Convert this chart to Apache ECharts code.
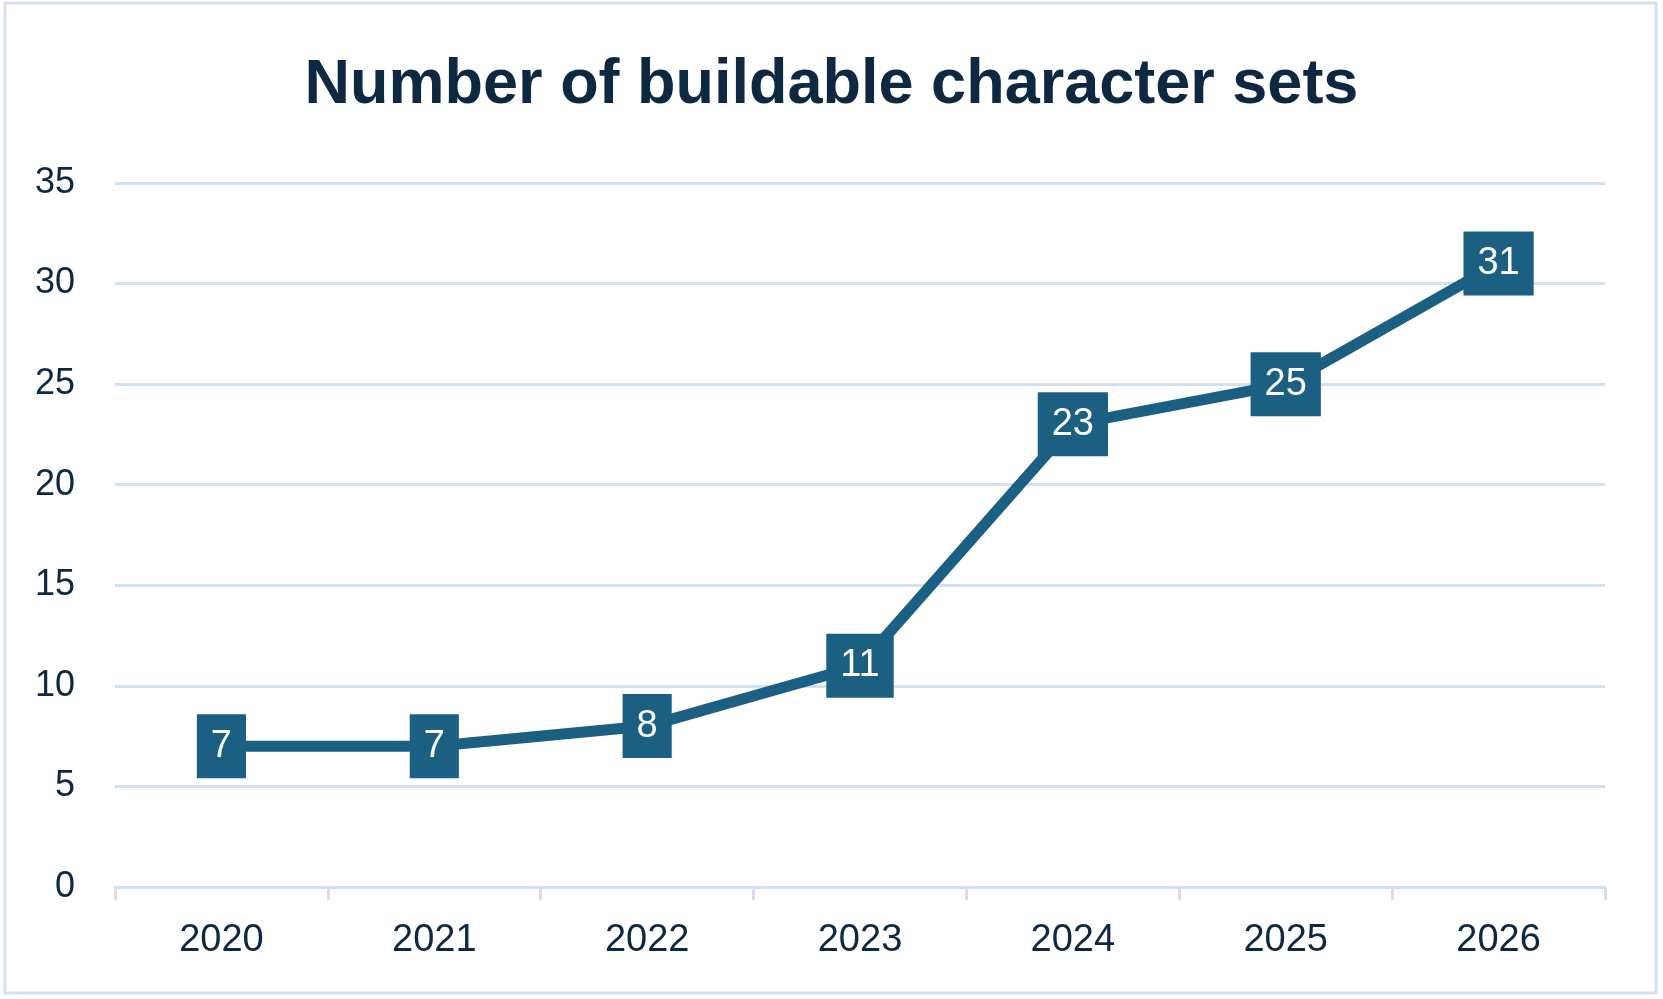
<!DOCTYPE html>
<html>
<head>
<meta charset="utf-8">
<script src="https://cdn.jsdelivr.net/npm/echarts@6/dist/echarts.min.js"></script>
<style>
html,body{margin:0;padding:0;background:#fff;}
#chart{width:1663px;height:999px;}
</style>
</head>
<body>
<div id="chart"></div>
<script>
const titleText = 'Number of buildable character sets';
const years = ['2020', '2021', '2022', '2023', '2024', '2025', '2026'];
const counts = [7, 7, 8, 11, 23, 25, 31];
const yTicks = [0, 5, 10, 15, 20, 25, 30, 35];

const navy = '#0E2841';
const lineColor = '#1B6082';
const gridColor = '#D2E1F2';
const fontFamily = '"Liberation Sans", Arial, sans-serif';

const chart = echarts.init(document.getElementById('chart'), null, {renderer: 'canvas'});
chart.setOption({
  backgroundColor: '#ffffff',
  animation: false,
  title: {
    text: titleText,
    left: 'center',
    top: 49,
    textStyle: {fontFamily: fontFamily, fontSize: 63, fontWeight: 'bold', color: navy}
  },
  graphic: [{
    type: 'rect',
    shape: {x: 5, y: 3, width: 1651, height: 990},
    style: {fill: 'none', stroke: gridColor, lineWidth: 3},
    silent: true
  }],
  grid: {left: 115, right: 58, top: 183, bottom: 112, containLabel: false},
  xAxis: {
    type: 'category',
    data: years,
    boundaryGap: true,
    axisLine: {show: true, lineStyle: {color: gridColor, width: 3}},
    axisTick: {show: true, length: 13, lineStyle: {color: gridColor, width: 3}},
    axisLabel: {color: navy, fontSize: 38, fontFamily: fontFamily, margin: 35}
  },
  yAxis: {
    type: 'value',
    min: yTicks[0],
    max: yTicks[yTicks.length - 1],
    interval: 5,
    axisLine: {show: false},
    axisTick: {show: false},
    splitLine: {show: true, lineStyle: {color: gridColor, width: 3}},
    axisLabel: {color: navy, fontSize: 36, fontFamily: fontFamily, margin: 40}
  },
  series: [{
    type: 'line',
    data: counts,
    symbol: 'rect',
    symbolSize: 4,
    showSymbol: true,
    itemStyle: {color: lineColor},
    lineStyle: {color: lineColor, width: 11},
    label: {
      show: true,
      position: 'inside',
      color: '#ffffff',
      fontSize: 38,
      fontFamily: fontFamily,
      lineHeight: 38,
      backgroundColor: lineColor,
      padding: [13, 14, 13, 14]
    }
  }]
});
</script>
</body>
</html>
